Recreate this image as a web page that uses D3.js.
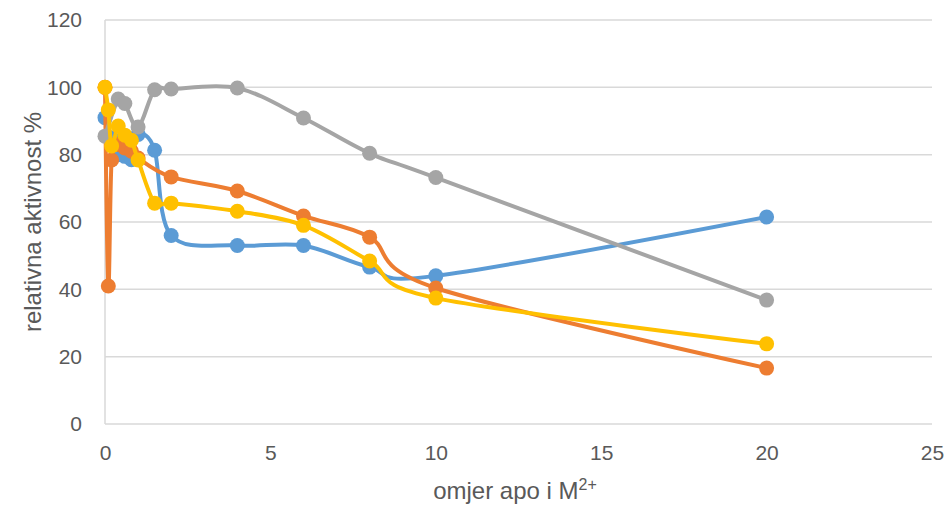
<!DOCTYPE html>
<html><head><meta charset="utf-8">
<script src="https://cdn.jsdelivr.net/npm/d3@7"></script>
<style>body{margin:0;background:#fff}svg{display:block}</style>
</head><body><svg id="c" width="946" height="507"></svg>
<script>
const xTicks = [0, 5, 10, 15, 20, 25];
const yTicks = [0, 20, 40, 60, 80, 100, 120];

const blueX   = [0, 0.2, 0.4, 0.6, 0.8, 1, 1.5, 2, 4, 6, 8, 10, 20];
const blueY   = [91, 85, 80, 79.5, 78.5, 86, 81.3, 56, 53, 53, 46.6, 44, 61.5];
const orangeX = [0, 0.1, 0.2, 0.4, 0.6, 0.8, 1, 2, 4, 6, 8, 10, 20];
const orangeY = [100, 41, 78.4, 83, 82, 81, 79, 73.4, 69.2, 61.8, 55.5, 40.4, 16.6];
const grayX   = [0, 0.4, 0.6, 1, 1.5, 2, 4, 6, 8, 10, 20];
const grayY   = [85.5, 96.5, 95.2, 88.2, 99.3, 99.5, 99.8, 90.9, 80.4, 73.2, 36.8];
const yellowX = [0, 0.1, 0.2, 0.4, 0.6, 0.8, 1, 1.5, 2, 4, 6, 8, 10, 20];
const yellowY = [100, 93.3, 82.6, 88.5, 85.8, 84.3, 78.4, 65.6, 65.6, 63.2, 59, 48.4, 37.4, 23.8];

const seriesColors = ["#5B9BD5", "#ED7D31", "#A5A5A5", "#FFC000"];
const seriesList = [[blueX, blueY], [orangeX, orangeY], [grayX, grayY], [yellowX, yellowY]];

const svg = d3.select("#c");
const font = "'Liberation Sans', Arial, sans-serif";
const x = d3.scaleLinear().domain([0, 25]).range([105, 932]);
const y = d3.scaleLinear().domain([0, 120]).range([424, 20]);

// gridlines
svg.append("g").selectAll("line").data(yTicks).join("line")
  .attr("x1", x(0)).attr("x2", x(25))
  .attr("y1", d => y(d)).attr("y2", d => y(d))
  .attr("stroke", "#d9d9d9").attr("stroke-width", 1.5);
// vertical axis line
svg.append("line").attr("x1", x(0)).attr("x2", x(0)).attr("y1", y(120)).attr("y2", y(0))
  .attr("stroke", "#d9d9d9").attr("stroke-width", 1.5);

// y axis
const yAxis = svg.append("g").attr("transform", `translate(${x(0)},0)`)
  .call(d3.axisLeft(y).tickValues(yTicks).tickSize(0).tickPadding(23));
yAxis.select(".domain").remove();
yAxis.selectAll("text").attr("font-family", font).attr("font-size", 21).attr("fill", "#595959");

// x axis
const xAxis = svg.append("g").attr("transform", `translate(0,${y(0)})`)
  .call(d3.axisBottom(x).tickValues(xTicks).tickSize(0).tickPadding(21));
xAxis.select(".domain").remove();
xAxis.selectAll("text").attr("font-family", font).attr("font-size", 21).attr("fill", "#595959");

// titles
svg.append("text").attr("transform", `translate(32,${(y(0) + y(120)) / 2}) rotate(-90)`)
  .attr("text-anchor", "middle").attr("dominant-baseline", "central")
  .attr("font-family", font).attr("font-size", 24).attr("fill", "#595959")
  .text("relativna aktivnost %");
const xt = svg.append("text").attr("x", 515).attr("y", 499).attr("text-anchor", "middle")
  .attr("font-family", font).attr("font-size", 24).attr("fill", "#595959");
xt.append("tspan").text("omjer apo i M");
xt.append("tspan").attr("font-size", 16).attr("dy", -9).text("2+");

// series
const line = d3.line().x(d => x(d[0])).y(d => y(d[1])).curve(d3.curveCardinal.tension(0));
seriesList.forEach(([xs, ys], i) => {
  const pts = xs.map((v, j) => [v, ys[j]]);
  const g = svg.append("g");
  g.append("path").attr("d", line(pts)).attr("fill", "none")
    .attr("stroke", seriesColors[i]).attr("stroke-width", 4).attr("stroke-linejoin", "round");
  g.selectAll("circle").data(pts).join("circle")
    .attr("cx", d => x(d[0])).attr("cy", d => y(d[1])).attr("r", 7.5)
    .attr("fill", seriesColors[i]);
});
</script></body></html>
